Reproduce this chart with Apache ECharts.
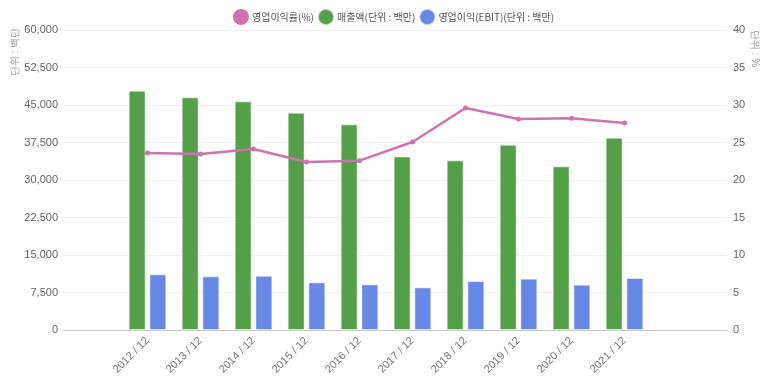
<!DOCTYPE html>
<html>
<head>
<meta charset="utf-8">
<script src="https://cdn.jsdelivr.net/npm/echarts@6/dist/echarts.min.js"></script>
<style>html,body{margin:0;padding:0;background:#fff}#c{width:773px;height:390px}</style>
</head>
<body>
<div id="c"></div>
<script>
var categories = ['2012 / 12','2013 / 12','2014 / 12','2015 / 12','2016 / 12','2017 / 12','2018 / 12','2019 / 12','2020 / 12','2021 / 12'];
var sales = [47870, 46530, 45730, 43470, 41130, 34700, 33930, 37070, 32730, 38470];
var ebit = [11130, 10730, 10870, 9530, 9130, 8530, 9800, 10270, 9070, 10400];
var margin = [23.6, 23.47, 24.13, 22.4, 22.58, 25.07, 29.6, 28.13, 28.22, 27.6];
var leftTicks = {min: 0, max: 60000, interval: 7500};
var rightTicks = {min: 0, max: 40, interval: 5};
var names = ['영업이익률(%)', '매출액(단위 : 백만)', '영업이익(EBIT)(단위 : 백만)'];

var FONT = "'Liberation Sans', 'Noto Sans CJK KR', sans-serif";
var chart = echarts.init(document.getElementById('c'));
chart.setOption({
  animation: false,
  textStyle: {fontFamily: FONT},
  legend: {
    top: 3, left: 228, itemWidth: 16, itemHeight: 16, itemGap: 3,
    icon: 'circle',
    textStyle: {fontSize: 10, color: '#555', fontFamily: "'Noto Sans CJK KR', sans-serif", padding: [0,0,0,-2]},
    data: names
  },
  grid: [
    {left: 121, right: 122, top: 30, bottom: 60},
    {left: 63, right: 46, top: 30, bottom: 60}
  ],
  xAxis: [
    {type: 'category', gridIndex: 0, data: categories, boundaryGap: true,
     axisLine: {show: false}, axisTick: {show: false},
     axisLabel: {rotate: 45, fontSize: 11, color: '#777', margin: 9, interval: 0}},
    {type: 'value', gridIndex: 1, min: 0, max: 1, show: true,
     axisLine: {show: true, onZero: false, lineStyle: {color: '#ccc', width: 1}},
     axisTick: {show: false}, axisLabel: {show: false}, splitLine: {show: false}}
  ],
  yAxis: [
    {type: 'value', gridIndex: 0, min: leftTicks.min, max: leftTicks.max, interval: leftTicks.interval, show: false, splitLine: {show: false}},
    {type: 'value', gridIndex: 0, min: rightTicks.min, max: rightTicks.max, interval: rightTicks.interval, show: false, splitLine: {show: false}},
    {type: 'value', gridIndex: 1, position: 'left', min: leftTicks.min, max: leftTicks.max, interval: leftTicks.interval,
     axisLine: {show: false}, axisTick: {show: false},
     axisLabel: {fontSize: 11, color: '#666', margin: 5, formatter: function(v){return v.toLocaleString('en-US');}},
     splitLine: {show: true, lineStyle: {color: '#f0f0f0'}}},
    {type: 'value', gridIndex: 1, position: 'right', min: rightTicks.min, max: rightTicks.max, interval: rightTicks.interval,
     axisLine: {show: false}, axisTick: {show: false},
     axisLabel: {fontSize: 11, color: '#666', margin: 6},
     splitLine: {show: false}}
  ],
  graphic: [
    {type: 'text', x: 10, y: 76, rotation: Math.PI/2,
     style: {text: '단위 : 백만', fontSize: 10, fill: '#999', font: "10px 'Noto Sans CJK KR', sans-serif"}},
    {type: 'text', x: 760, y: 30, rotation: -Math.PI/2,
     style: {text: '단위 : %', fontSize: 10, fill: '#999', font: "10px 'Noto Sans CJK KR', sans-serif"}}
  ],
  series: [
    {name: names[0], type: 'line', xAxisIndex: 0, yAxisIndex: 1, data: margin, z: 5,
     symbol: 'circle', symbolSize: 5, lineStyle: {color: '#cf72b0', width: 2.5},
     itemStyle: {color: '#cf72b0'}},
    {name: names[1], type: 'bar', xAxisIndex: 0, yAxisIndex: 0, data: sales, barWidth: 17, barGap: '22%',
     itemStyle: {color: '#53a049', borderColor: 'rgba(255,255,255,0.55)', borderWidth: 1}},
    {name: names[2], type: 'bar', xAxisIndex: 0, yAxisIndex: 0, data: ebit, barWidth: 17, barGap: '22%',
     itemStyle: {color: '#6788e4', borderColor: 'rgba(255,255,255,0.55)', borderWidth: 1}}
  ]
});
</script>
</body>
</html>
